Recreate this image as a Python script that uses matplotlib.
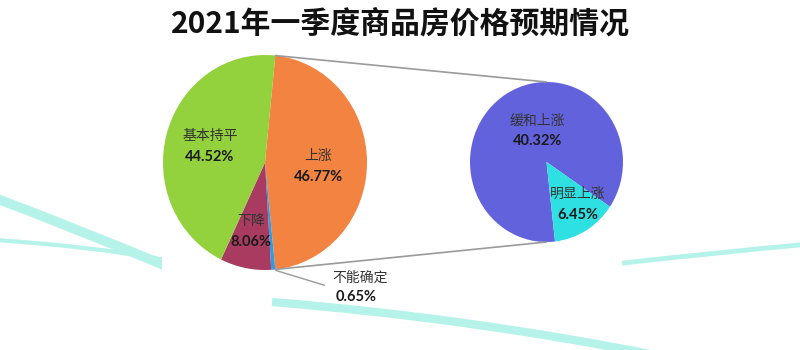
import numpy as np
import matplotlib
matplotlib.use("Agg")
import matplotlib.pyplot as plt
from matplotlib.patches import ConnectionPatch, Rectangle, PathPatch
from matplotlib.path import Path

plt.rcParams['font.family'] = ['Noto Sans CJK SC', 'DejaVu Sans']

# data
title = "2021年一季度商品房价格预期情况"
main_labels = ["上涨", "不能确定", "下降", "基本持平"]
main_values = [46.77, 0.65, 8.06, 44.52]
main_colors = ["#F38341", "#2E9BE3", "#A83B5F", "#93D13D"]

sub_labels = ["缓和上涨", "明显上涨"]
sub_values = [40.32, 6.45]
sub_colors = ["#6262DC", "#2FE0E2"]

W, H = 800, 350
fig = plt.figure(figsize=(8, 3.5), dpi=100)

# background decoration in pixel coordinates
bg = fig.add_axes([0, 0, 1, 1])
bg.set_xlim(0, W)
bg.set_ylim(H, 0)
bg.axis("off")

deco = "#B5F3EA"
def curve(p0, p1, p2, lw):
    path = Path([p0, p1, p2], [Path.MOVETO, Path.CURVE3, Path.CURVE3])
    bg.add_patch(PathPatch(path, fc="none", ec=deco, lw=lw, capstyle="butt", zorder=1))

curve((-5, 198), (70, 226), (166, 266), 7)
curve((-5, 240), (90, 246), (166, 260), 3)
curve((272, 302), (470, 318), (660, 356), 6)
curve((615, 264), (720, 252), (810, 244), 3.5)
bg.add_patch(Rectangle((162, 0), 460, 275, fc="white", ec="none", zorder=2))

fig.text(0.5, 1 - 24 / H, title, ha="center", va="center",
         fontsize=21.5, fontweight="bold", color="#111111")

def pix_axes(x0, y0, x1, y1):
    ax = fig.add_axes([x0 / W, 1 - y1 / H, (x1 - x0) / W, (y1 - y0) / H])
    return ax

# main pie
ax1 = pix_axes(163, 55, 367, 270)
split = 360 * main_values[0] / 100 / 2
ax1.pie(main_values, colors=main_colors, startangle=split, counterclock=False,
        radius=1, wedgeprops=dict(linewidth=0))
ax1.set_aspect("auto")
ax1.set_xlim(-1, 1)
ax1.set_ylim(-1, 1)

# sub pie
ax2 = pix_axes(470, 82, 623, 242)
ax2.pie(sub_values, colors=sub_colors, startangle=-83.6, counterclock=False,
        radius=1, wedgeprops=dict(linewidth=0))
ax2.set_aspect("auto")
ax2.set_xlim(-1, 1)
ax2.set_ylim(-1, 1)

name_font = dict(fontsize=10, color="#333333", family=['Noto Sans CJK SC', 'DejaVu Sans'])
pct_font = dict(fontsize=10.5, color="#1a1a1a", fontweight="bold", family=['Lato', 'DejaVu Sans'])

def two_line(ax, xy, name, value):
    ax.annotate(name, xy, xytext=(0, 7.5), textcoords="offset points",
                ha="center", va="center", **name_font)
    ax.annotate(f"{value:.2f}%", xy, xytext=(0, -7.5), textcoords="offset points",
                ha="center", va="center", **pct_font)

main_label_pos = {"基本持平": (-0.54, 0.15), "上涨": (0.52, -0.04), "下降": (-0.14, -0.64)}
for name, val in zip(main_labels, main_values):
    if name in main_label_pos:
        two_line(ax1, main_label_pos[name], name, val)

sub_label_pos = [(-0.12, 0.39), (0.41, -0.53)]
for pos, name, val in zip(sub_label_pos, sub_labels, sub_values):
    two_line(ax2, pos, name, val)

# small slice label with leader
a = np.deg2rad(-(split + 360 * main_values[1] / 100 / 2))
ax1.annotate("", xy=(np.cos(a), np.sin(a)), xytext=(0.61, -1.15),
             arrowprops=dict(arrowstyle="-", color="#999999", lw=1.0),
             annotation_clip=False)
ax1.annotate(main_labels[1], (0.61, -1.15), xytext=(4, 6), textcoords="offset points",
             ha="left", va="center", annotation_clip=False, **name_font)
ax1.annotate(f"{main_values[1]:.2f}%", (0.61, -1.15), xytext=(21, -8), textcoords="offset points",
             ha="center", va="center", annotation_clip=False, **pct_font)

# connector lines between the pies
t = np.deg2rad(split)
for pa, pb in [((np.cos(t), np.sin(t)), (0, 1)), ((np.cos(t), -np.sin(t)), (0, -1))]:
    con = ConnectionPatch(xyA=pa, coordsA="data", axesA=ax1,
                          xyB=pb, coordsB="data", axesB=ax2,
                          color="#9a9a9a", lw=1.2)
    fig.add_artist(con)

fig.savefig("out.png", dpi=100, facecolor="white")
